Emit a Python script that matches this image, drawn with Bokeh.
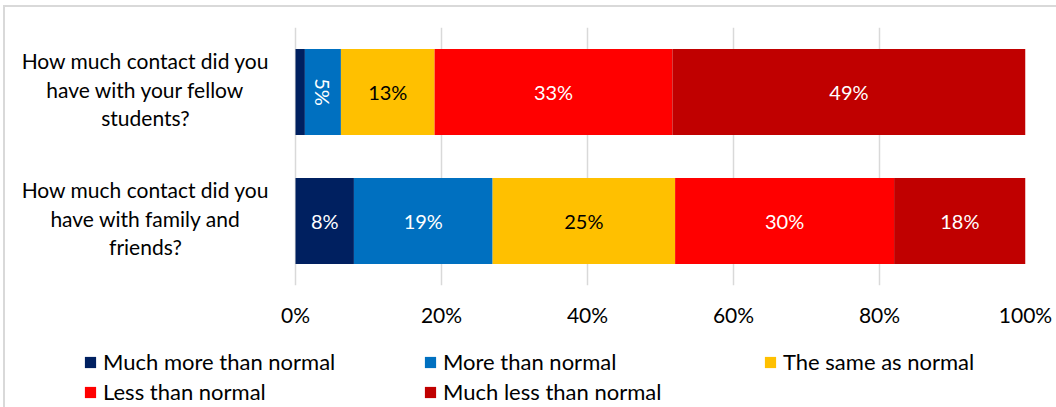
import math

from bokeh.core.properties import value
from bokeh.embed import file_html
from bokeh.layouts import column
from bokeh.models import (ColumnDataSource, FactorRange, FixedTicker, Legend,
                          LegendItem, Range1d)
from bokeh.plotting import figure
from bokeh.resources import INLINE

# Survey questions (top to bottom)
questions = [
    "How much contact did you\nhave with your fellow\nstudents?",
    "How much contact did you\nhave with family and\nfriends?",
]

# Answer categories
series = [
    "Much more than normal",
    "More than normal",
    "The same as normal",
    "Less than normal",
    "Much less than normal",
]

# Percent of respondents per answer, one value per question
much_more = [1.3, 8]
more = [5, 19]
same = [13, 25]
less = [33, 30]
much_less = [49, 18]

x_ticks = [0, 20, 40, 60, 80, 100]

colors = ["#002060", "#0070C0", "#FFC000", "#FF0000", "#C00000"]
label_colors = ["#FFFFFF", "#FFFFFF", "#000000", "#FFFFFF", "#FFFFFF"]

FONT = "Lato"
TOTAL_W = 1051

# 100% stacked: each question's answers are scaled to their row total
values = [much_more, more, same, less, much_less]
totals = [sum(col) for col in zip(*values)]
keys = [f"s{i}" for i in range(len(series))]
data = {"q": questions}
for k, vals in zip(keys, values):
    data[k] = [v / t * 100 for v, t in zip(vals, totals)]
source = ColumnDataSource(data)

p = figure(
    y_range=FactorRange(*reversed(questions)),
    x_range=Range1d(-39.73, 100),
    frame_width=1020,
    frame_height=258,
    min_border_left=0,
    min_border_right=TOTAL_W - 1020,
    min_border_top=20,
    min_border_bottom=0,
    output_backend="svg",
    toolbar_location=None,
)

renderers = p.hbar_stack(keys, y="q", height=0.667, color=colors,
                         line_color=None, source=source)

# Data labels centred in each segment
lx, ly, lt, la, lc = [], [], [], [], []
for j, q in enumerate(questions):
    left = 0.0
    for i, k in enumerate(keys):
        share = data[k][j]
        raw = values[i][j]
        if raw >= 2:
            lx.append(left + share / 2)
            ly.append(q)
            lt.append(f"{raw:.0f}%")
            la.append(-math.pi / 2 if share < 7 else 0.0)
            lc.append(label_colors[i])
        left += share
p.text(x=lx, y=ly, text=lt, angle=la, text_color=lc,
       text_align="center", text_baseline="middle",
       text_font=value(FONT), text_font_size="20px")

# Question labels left of the bars
p.text(x=[-20.55] * len(questions), y=questions, text=questions,
       text_align="center", text_baseline="middle", text_line_height=1.15,
       y_offset=-3, text_color="#000000", text_font=value(FONT),
       text_font_size="21px")

p.yaxis.visible = False
p.ygrid.grid_line_color = None

xa = p.xaxis[0]
xa.ticker = FixedTicker(ticks=x_ticks)
xa.major_label_overrides = {t: f"{t}%" for t in x_ticks}
xa.axis_line_color = None
xa.major_tick_line_color = None
xa.minor_tick_line_color = None
xa.major_tick_in = 0
xa.major_tick_out = 0
xa.major_label_standoff = 16
xa.major_label_text_font = FONT
xa.major_label_text_font_size = "21px"
xa.major_label_text_color = "#000000"

p.xgrid.ticker = FixedTicker(ticks=x_ticks)
p.xgrid.grid_line_color = "#D9D9D9"
p.xgrid.grid_line_width = 1.5

p.outline_line_color = None
p.border_fill_color = "#FFFFFF"

# Legend strip below the chart; swatch renderers hold no drawable points
lg = figure(
    width=TOTAL_W,
    height=78,
    x_range=Range1d(0, 1),
    y_range=Range1d(0, 1),
    min_border=0,
    x_axis_location=None,
    y_axis_location=None,
    output_backend="svg",
    toolbar_location=None,
)
lg.grid.visible = False
lg.outline_line_color = None
nan = float("nan")
swatches = [lg.hbar(y=[nan], right=[nan], height=1, color=c, line_color=None)
            for c in colors]

legend = Legend(
    items=[LegendItem(label=s, renderers=[r]) for s, r in zip(series, swatches)],
    ncols=3,
    orientation="horizontal",
    location=(78, 2),
    glyph_width=14,
    glyph_height=14,
    label_standoff=6,
    label_width=317,
    label_height=20,
    spacing=3,
    padding=0,
    margin=0,
    border_line_color=None,
    background_fill_alpha=0,
    label_text_font=FONT,
    label_text_font_size="22px",
    label_text_color="#000000",
)
lg.add_layout(legend, "center")

layout = column(p, lg, spacing=0)
layout.margin = (5, 0, 0, 3)
layout.styles = {"border-top": "2px solid #D9D9D9",
                 "border-left": "2px solid #D9D9D9"}

open("out.html", "w").write(file_html(layout, INLINE))
